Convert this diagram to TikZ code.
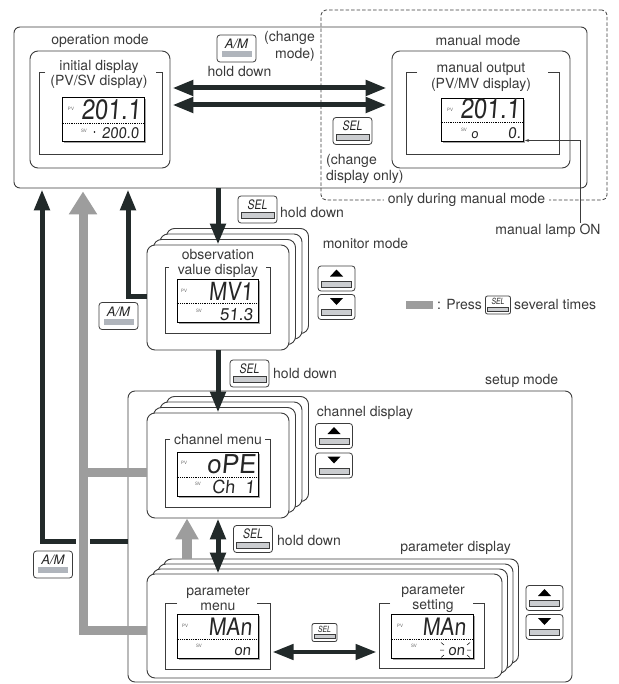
\documentclass[tikz,border=0pt]{standalone}
\usepackage{fontspec}
\setmainfont{TeX Gyre Heros}
\newfontfamily\lcdfam[FakeSlant=0.1]{TeX Gyre Heros}
\usetikzlibrary{arrows.meta,calc}
\definecolor{txtc}{HTML}{3A3A3A}
\definecolor{linec}{HTML}{3C3C3C}
\definecolor{arrc}{HTML}{222A2A}
\definecolor{grayc}{HTML}{9D9D9D}
\definecolor{barc}{HTML}{B0B5BC}
\definecolor{barf}{HTML}{CBCDD0}
\newcommand\lcdf[1]{\fontsize{#1}{#1}\selectfont\lcdfam}
\tikzset{
  frame/.style={draw=linec, line width=0.9pt, fill=white, rounded corners=8pt, inner sep=0pt},
  brk/.style={draw=linec, line width=0.9pt},
  lbl/.style={text=txtc, inner sep=0pt, font=\fontsize{14}{16}\selectfont, align=center},
  blk/.style={draw=arrc, line width=5pt, line join=miter, -{Triangle[length=21pt,width=15pt]}},
  blkboth/.style={draw=arrc, line width=5pt, {Triangle[length=21pt,width=15pt]}-{Triangle[length=21pt,width=15pt]}},
  gry/.style={draw=grayc, line width=9pt, line join=miter, -{Triangle[length=23pt,width=27pt]}},
  lcdbox/.style={draw=black, line width=1pt, fill=white, inner sep=0pt},
  lcdsep/.style={draw=black, line width=0.6pt, dash pattern=on 0.7pt off 1.1pt},
  tiny/.style={font=\fontsize{4.5}{5}\selectfont, text=black!60, inner sep=0pt},
  seg/.style={inner sep=0pt, text=black!85, anchor=base east},
  keyframe/.style={draw=linec, line width=0.8pt, fill=white, rounded corners=3pt},
  keybar/.style={draw=linec, line width=0.6pt, fill=barf},
  keytxt/.style={inner sep=0pt, text=black!85},
  pics/amkey/.style={code={
    \draw[keyframe] (-19.5,-13.5) rectangle (19.5,13.5);
    \fill[barc] (-15,2.5) rectangle (15,8.5);
    \node[keytxt, font=\fontsize{13}{13}\selectfont\itshape] (-t) at (0,-4.5) {A/M};
  }},
  pics/selkey/.style={code={
    \draw[keyframe] (-19.5,-13.5) rectangle (19.5,13.5);
    \draw[keybar] (-16.5,3) rectangle (16.5,9);
    \node[keytxt, font=\fontsize{13}{13}\selectfont\itshape] (-t) at (0,-5) {\scalebox{0.8}[1]{SEL}};
  }},
  pics/selsmall/.style={code={
    \draw[keyframe, rounded corners=2pt] (-12.5,-9) rectangle (12.5,9);
    \draw[keybar, line width=0.5pt] (-10.5,2) rectangle (10.5,6);
    \node[keytxt, font=\fontsize{8.5}{8.5}\selectfont\itshape] (-t) at (0,-3.5) {\scalebox{0.8}[1]{SEL}};
  }},
  pics/upkey/.style={code={
    \draw[keyframe] (-18.5,-12.5) rectangle (18.5,12.5);
    \fill[black] (-6.5,-2) -- (6.5,-2) -- (0,-9) -- cycle;
    \draw[keybar] (-15,2.5) rectangle (15,8.5);
  }},
  pics/downkey/.style={code={
    \draw[keyframe] (-18.5,-12.5) rectangle (18.5,12.5);
    \fill[black] (-6.5,-9) -- (6.5,-9) -- (0,-2) -- cycle;
    \draw[keybar] (-15,2.5) rectangle (15,8.5);
  }},
}
\begin{document}
\begin{tikzpicture}[x=1pt,y=-1pt]
\useasboundingbox (0,0) rectangle (618,684);

% ---------- operation / manual ----------
\node[frame, rounded corners=6pt, minimum width=573pt, minimum height=161pt] (op) at (300.5,107.5) {};
\node[draw=linec, line width=0.8pt, dash pattern=on 3.5pt off 2pt, rounded corners=5pt, minimum width=286pt, minimum height=190pt, inner sep=0pt] (dash) at (464,105) {};
\node[lbl, fill=white, inner xsep=4pt, inner ysep=1pt] (only) at (466.5,200) {only during manual mode};

\node[frame, minimum width=140pt, minimum height=117pt] (init) at (100,109.5) {};
\node[frame, minimum width=178pt, minimum height=117pt] (man) at (481,109.5) {};
\node[lbl] (opl) at (100,41) {operation mode};
\node[lbl] (manl) at (478,40.5) {manual mode};

\draw[brk] (45,72) -| (39,154) -| (162,72) -- (156,72);
\node[lbl, font=\fontsize{14}{15}\selectfont] (initl) at (99,74) {initial display\\(PV/SV display)};
\draw[brk] (417,72) -| (406,154) -| (559,72) -- (548,72);
\node[lbl] (manol) at (481,77) {manual output\\(PV/MV display)};

% LCD 1
\fill[black!35] (63.5,99.5) rectangle (145.5,143.5);
\node[lcdbox, minimum width=82pt, minimum height=44pt] (lcd1) at (103,120) {};
\draw[lcdsep] (lcd1.west |- 0,123) -- (lcd1.east |- 0,123);
\node[tiny] (lcd1pv) at (71,109) {PV};
\node[tiny] (lcd1sv) at (84,131) {SV};
\fill (94.5,132) circle (0.9);
\node[seg, font=\lcdf{28}] (lcd1a) at (141,120) {\scalebox{0.85}[1]{201.1}};
\node[seg, font=\lcdf{15.5}] (lcd1b) at (139,138.5) {\scalebox{0.95}[1]{200.0}};

% LCD 2
\fill[black!35] (442.5,100.5) rectangle (524.5,143.5);
\node[lcdbox, minimum width=82pt, minimum height=43pt] (lcd2) at (482,120.5) {};
\draw[lcdsep] (lcd2.west |- 0,122) -- (lcd2.east |- 0,122);
\node[tiny] (lcd2pv) at (450,110) {PV};
\node[tiny] (lcd2sv) at (464,130) {SV};
\node[seg, font=\lcdf{28}] (lcd2a) at (520,119) {\scalebox{0.85}[1]{201.1}};
\node[inner sep=0pt, text=black!85, anchor=base west, font=\lcdf{13}] (lcd2b) at (471,139) {o};
\node[seg, font=\lcdf{15.5}] (lcd2c) at (521,139) {0.};

\node[lbl] (lampl) at (548,230.5) {manual lamp ON};
\coordinate (lampc) at (580,223);
\draw[draw=linec, line width=0.7pt, -{Stealth[length=4pt,width=3pt]}] (lampc) |- ([shift={(1.5,-2)}]lcd2.south east);

% keys top
\pic (amtop) at (236.5,48.5) {amkey};
\node[lbl, align=right, anchor=east, font=\fontsize{14}{17}\selectfont] (chg) at (315,46.5) {(change\\mode)};
\node[lbl] (hd1) at (239.5,72) {hold down};
\pic (selman) at (352.5,131) {selkey};
\node[lbl, align=left, anchor=west] (chg2) at (326,169) {(change\\display only)};

\draw[blkboth, shorten <=2pt, shorten >=5pt] (init.east |- 0,88) -- (man.west |- 0,88);
\draw[blkboth, shorten <=2pt, shorten >=5pt] (init.east |- 0,105) -- (man.west |- 0,105);

% ---------- monitor mode ----------
\foreach \i in {3,2,1} \node[frame, minimum width=142pt, minimum height=105pt] (mon\i) at (218+6.5*\i, 297.5-5.5*\i) {};
\node[frame, minimum width=142pt, minimum height=105pt] (mon) at (218,297.5) {};
\node[lbl, font=\fontsize{14}{15}\selectfont] (monl) at (218,263.5) {observation\\value display};
\draw[brk] (169,267) -| (165,333) -| (270,267) -- (266,267);
\fill[black!35] (178.5,280.5) rectangle (259.5,323.5);
\node[lcdbox, minimum width=81pt, minimum height=43pt] (lcd3) at (217.5,300.5) {};
\draw[lcdsep] (lcd3.west |- 0,303) -- (lcd3.east |- 0,303);
\node[tiny] (lcd3pv) at (184,291) {PV};
\node[tiny] (lcd3sv) at (199,311) {SV};
\node[seg, font=\lcdf{25}] (lcd3a) at (253,300) {\scalebox{0.86}[1]{MV1}};
\node[seg, font=\lcdf{17}] (lcd3b) at (253,320) {51.3};

\node[lbl] (monml) at (365.5,244) {monitor mode};
\pic (mup) at (336.5,278.5) {upkey};
\pic (mdn) at (336.5,307) {downkey};
\pic (selmon) at (257.5,209.5) {selkey};
\node[lbl, anchor=west] (hd2) at (280,213) {hold down};

\draw[blk] (op.south -| mon.north) -- (mon.north);
\draw[blk, shorten >=1pt] (mon.west |- 0,296) -| (128,0 |- op.south);
\pic (ammon) at (118.5,316) {amkey};

% ---------- setup mode ----------
\node[frame, rounded corners=7pt, minimum width=444pt, minimum height=291pt] (setup) at (350,536.5) {};
\node[lbl, anchor=west] (setl) at (485,381) {setup mode};

\foreach \i in {3,2,1} \node[frame, minimum width=142pt, minimum height=105pt] (chan\i) at (218+6.5*\i, 465.5-5.5*\i) {};
\node[frame, minimum width=142pt, minimum height=105pt] (chan) at (218,465.5) {};
\node[lbl] (chl) at (218,439.5) {channel menu};
\draw[brk] (170,439.5) -| (165,507) -| (270,439.5) -- (265,439.5);
\fill[black!35] (178.5,453.5) rectangle (259.5,497.5);
\node[lcdbox, minimum width=81pt, minimum height=44pt] (lcd4) at (217.5,474) {};
\draw[lcdsep] (lcd4.west |- 0,477) -- (lcd4.east |- 0,477);
\node[tiny] (lcd4pv) at (184,463) {PV};
\node[tiny] (lcd4sv) at (198,484) {SV};
\node[seg, font=\lcdf{26}] (lcd4a) at (256,473) {oPE};
\node[seg, font=\lcdf{18}] (lcd4b) at (255,493) {Ch\hspace{0.55em}1};

\node[lbl] (chdl) at (365,413) {channel display};
\pic (cup) at (334,436) {upkey};
\pic (cdn) at (334,465.5) {downkey};

\draw[blk] (mon.south) -- (chan.north);
\pic (selch) at (249.5,373.5) {selkey};
\node[lbl, anchor=west] (hd3) at (273,373) {hold down};

% parameter stack
\foreach \i in {3,2,1} \node[frame, minimum width=355pt, minimum height=104pt] (par\i) at (324.5+5.5*\i, 626-5*\i) {};
\node[frame, minimum width=355pt, minimum height=104pt] (par) at (324.5,626) {};
\node[lbl] (pdl) at (455.5,548) {parameter display};

\node[lbl, font=\fontsize{14}{15}\selectfont] (pml) at (218,598.5) {parameter\\menu};
\draw[brk] (177,603) -| (165,669) -| (270,603) -- (257,603);
\fill[black!35] (178.5,615.5) rectangle (259.5,659.5);
\node[lcdbox, minimum width=81pt, minimum height=44pt] (lcd5) at (217.5,636) {};
\draw[lcdsep] (lcd5.west |- 0,639) -- (lcd5.east |- 0,639);
\node[tiny] (lcd5pv) at (185,626) {PV};
\node[tiny] (lcd5sv) at (199,646) {SV};
\node[seg, font=\lcdf{24}] (lcd5a) at (252,635) {\scalebox{0.88}[1]{MAn}};
\node[seg, font=\lcdf{15}] (lcd5b) at (251,655) {on};

\node[lbl, font=\fontsize{14}{15}\selectfont] (psl) at (433,599) {parameter\\setting};
\draw[brk] (390,603) -| (379,668) -| (484,603) -- (473,603);
\fill[black!35] (392.5,615.5) rectangle (474.5,659.5);
\node[lcdbox, minimum width=82pt, minimum height=44pt] (lcd6) at (432,636) {};
\draw[lcdsep] (lcd6.west |- 0,639) -- (lcd6.east |- 0,639);
\node[tiny] (lcd6pv) at (400,626) {PV};
\node[tiny] (lcd6sv) at (414,646) {SV};
\node[seg, font=\lcdf{24}] (lcd6a) at (466,635) {\scalebox{0.88}[1]{MAn}};
\node[seg, font=\lcdf{15}] (lcd6b) at (465,655) {on};
\draw[black, line width=0.5pt] (444,645) -- (441,642.5) (444,650) -- (440,650) (444,655) -- (441,657.5)
  (467,645) -- (470,642.5) (467,650) -- (471,650) (467,655) -- (470,657.5);

\pic (pup) at (544.5,598) {upkey};
\pic (pdn) at (544.5,627) {downkey};
\pic (selpar) at (324.5,632.5) {selsmall};
\draw[blkboth, line width=4.5pt, shorten <=14pt, shorten >=14pt] (lcd5.east |- 0,652) -- (lcd6.west |- 0,652);

\draw[blkboth] (chan.south) -- (chan.south |- par.north);
\draw[gry, line width=10pt, -{Triangle[length=21pt,width=22pt]}] (par3.north -| 187,0) -- (chan.south -| 187,0);
\pic (selcp) at (253,539) {selkey};
\node[lbl, anchor=west] (hd4) at (277,540) {hold down};

% ---------- left return paths ----------
\draw[blk, shorten >=1pt] (setup.west |- 0,541) -| (42,0 |- op.south);
\draw[white, line width=14pt] (83,534) -- (83,548);
\draw[gry, shorten >=3pt] (par.west |- 0,630) -| (83,0 |- op.south);
\draw[draw=grayc, line width=9pt] (chan.west |- 0,472) -- (83,472);
\pic (amlow) at (53,564.5) {amkey};

% ---------- legend ----------
\node[fill=grayc, minimum width=27pt, minimum height=8pt, inner sep=0pt] (legbar) at (419.5,305) {};
\node[lbl, anchor=west] (leg1) at (437,304.5) {: Press};
\pic (selleg) at (498,305) {selsmall};
\node[lbl, anchor=west] (leg2) at (514,304.5) {several times};
\end{tikzpicture}
\end{document}
